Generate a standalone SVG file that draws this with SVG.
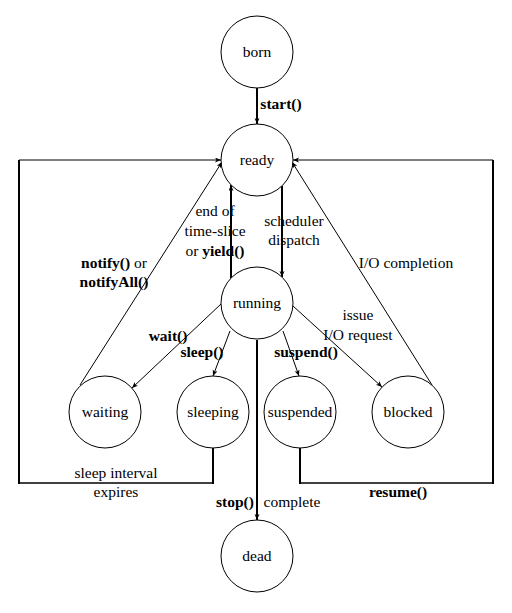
<svg xmlns="http://www.w3.org/2000/svg" width="512" height="613" viewBox="0 0 512 613">
<style>
text{font-family:"Liberation Serif","Times New Roman",serif;font-size:15.5px;fill:#000;text-anchor:middle}
.b{font-weight:bold}
circle{fill:#fff;stroke:#000;stroke-width:1}
.c line{stroke:#000;fill:none}
.t1{stroke-width:1}
.t2{stroke-width:2}
.t15{stroke-width:1.6}
</style>
<defs>
<marker id="a" markerUnits="userSpaceOnUse" markerWidth="7" markerHeight="6" refX="6" refY="2.5" orient="auto">
<path d="M0,0 L6,2.5 L0,5 L1.5,2.5 z" fill="#000"/>
</marker>
</defs>
<rect width="512" height="613" fill="#fff"/>
<g id="connectors" class="c">
<line class="t2" x1="257" y1="88" x2="257" y2="124" marker-end="url(#a)"/>
<line class="t2" x1="19" y1="160" x2="19" y2="484"/>
<line class="t1" x1="19" y1="160" x2="221" y2="160" marker-end="url(#a)"/>
<line class="t15" x1="19" y1="483" x2="214" y2="483"/>
<line class="t2" x1="213" y1="448" x2="213" y2="484"/>
<line class="t2" x1="300" y1="448" x2="300" y2="484"/>
<line class="t15" x1="299" y1="483" x2="494" y2="483"/>
<line class="t2" x1="493" y1="484" x2="493" y2="160"/>
<line class="t1" x1="493" y1="160" x2="293" y2="160" marker-end="url(#a)"/>
<line class="t1" x1="80" y1="385" x2="222" y2="162" marker-end="url(#a)"/>
<line class="t1" x1="432" y1="385" x2="292" y2="162" marker-end="url(#a)"/>
<line class="t2" x1="231" y1="278" x2="231" y2="185" marker-end="url(#a)"/>
<line class="t2" x1="282" y1="186" x2="282" y2="277" marker-end="url(#a)"/>
<line class="t1" x1="221" y1="304" x2="132" y2="388" marker-end="url(#a)"/>
<line class="t1" x1="230" y1="331" x2="213" y2="376" marker-end="url(#a)"/>
<line class="t1" x1="283" y1="331" x2="299" y2="376" marker-end="url(#a)"/>
<line class="t1" x1="293" y1="306" x2="382" y2="387" marker-end="url(#a)"/>
<line class="t2" x1="257" y1="340" x2="257" y2="520" marker-end="url(#a)"/>
</g>
<g id="labels">
<text x="281" y="109" class="b">start()</text>
<text x="215" y="216">end of</text>
<text x="215" y="236">time-slice</text>
<text x="215" y="256">or <tspan class="b">yield()</tspan></text>
<text x="294" y="226">scheduler</text>
<text x="294" y="245">dispatch</text>
<text x="114" y="268"><tspan class="b">notify()</tspan> or</text>
<text x="114" y="287" class="b">notifyAll()</text>
<text x="406" y="268">I/O completion</text>
<text x="358" y="320">issue</text>
<text x="358" y="340">I/O request</text>
<text x="168" y="341" class="b">wait()</text>
<text x="202" y="357" class="b">sleep()</text>
<text x="306" y="357" class="b">suspend()</text>
<text x="116" y="478">sleep interval</text>
<text x="116" y="497">expires</text>
<text x="235" y="507" class="b">stop()</text>
<text x="292" y="507">complete</text>
<text x="398" y="497" class="b">resume()</text>
</g>
<g id="born"><circle cx="257" cy="52" r="36"/><text x="257" y="57">born</text></g>
<g id="ready"><circle cx="257" cy="160" r="36"/><text x="257" y="165">ready</text></g>
<g id="running"><circle cx="257" cy="303" r="36"/><text x="257" y="308">running</text></g>
<g id="waiting"><circle cx="105" cy="412" r="36"/><text x="105" y="417">waiting</text></g>
<g id="sleeping"><circle cx="213" cy="412" r="36"/><text x="213" y="417">sleeping</text></g>
<g id="suspended"><circle cx="300" cy="412" r="36"/><text x="300" y="417">suspended</text></g>
<g id="blocked"><circle cx="408" cy="412" r="36"/><text x="408" y="417">blocked</text></g>
<g id="dead"><circle cx="257" cy="556" r="36"/><text x="257" y="561">dead</text></g>
</svg>
